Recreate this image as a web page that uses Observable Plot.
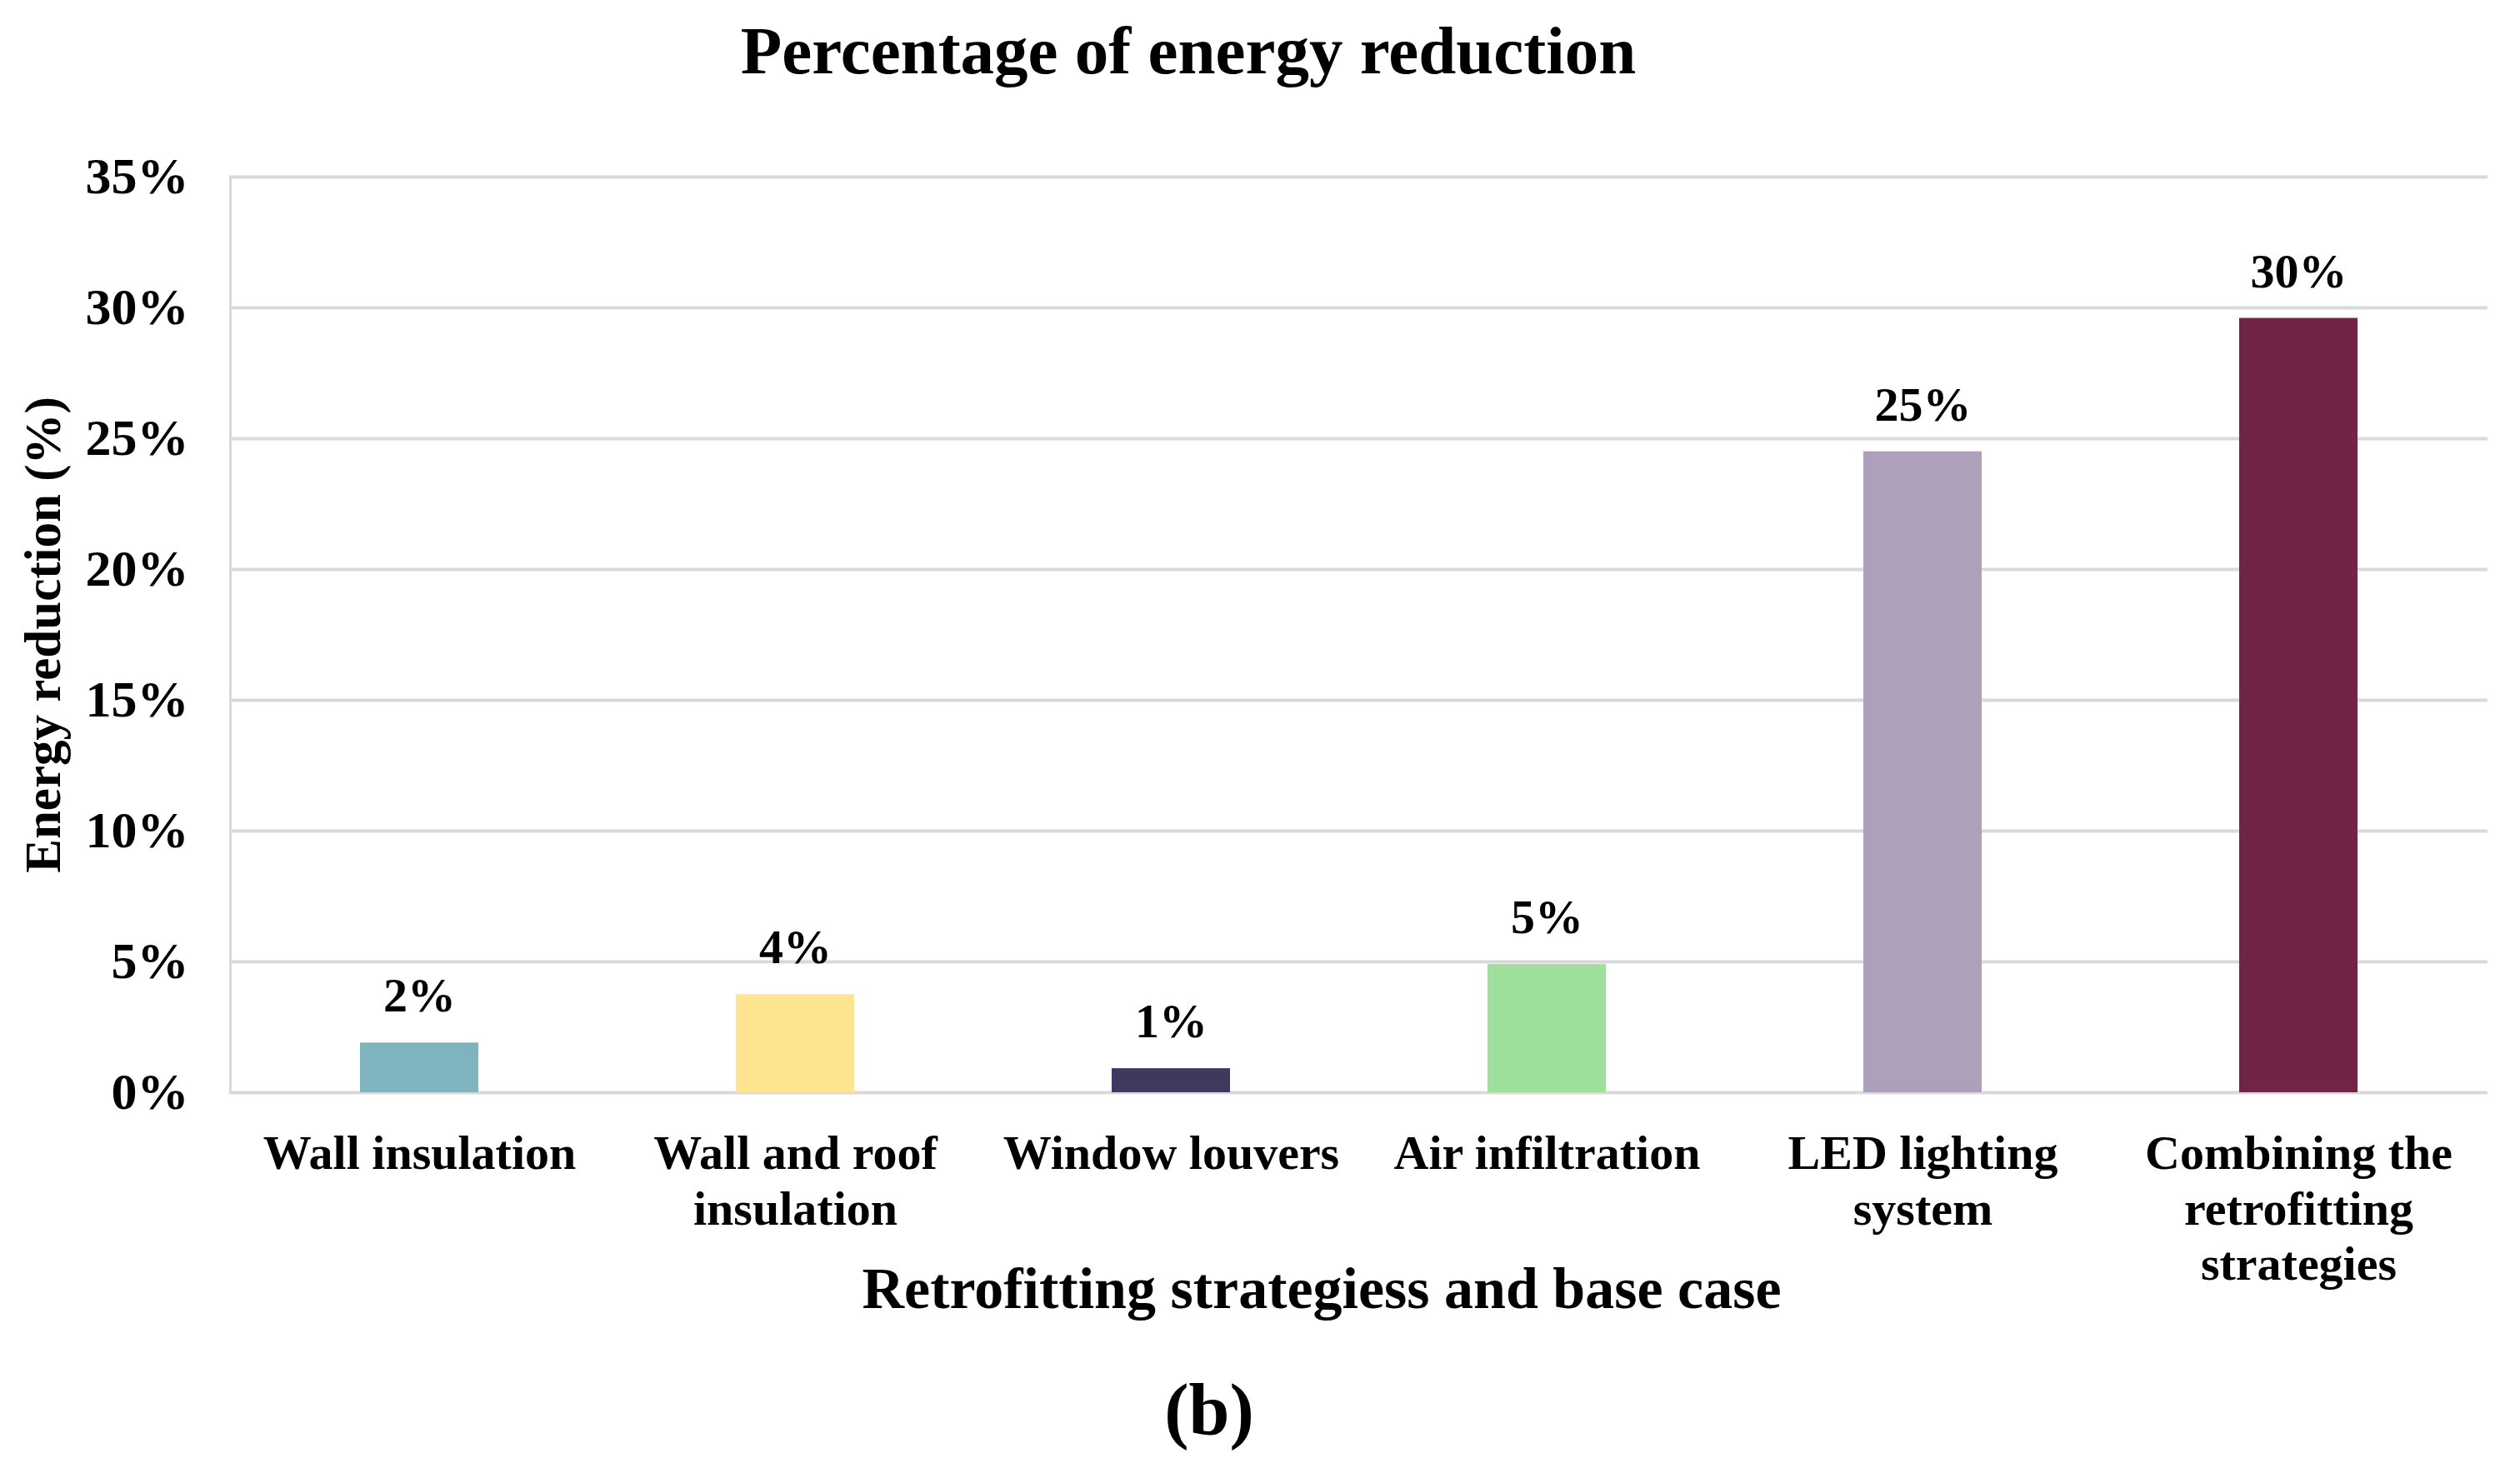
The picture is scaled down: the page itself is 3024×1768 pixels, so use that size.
<!DOCTYPE html>
<html><head><meta charset="utf-8">
<script src="https://cdn.jsdelivr.net/npm/d3@7"></script>
<script src="https://cdn.jsdelivr.net/npm/@observablehq/plot@0.6"></script>
<style>html,body{margin:0;padding:0;background:#fff;} svg{display:block}</style>
</head><body><div id="chart"></div>
<script>
const categories = ["Wall insulation","Wall and roof insulation","Window louvers","Air infiltration","LED lighting system","Combining the retrofitting strategies"];
const tickLabels = ["Wall insulation","Wall and roof\ninsulation","Window louvers","Air infiltration","LED lighting\nsystem","Combining the\nretrofitting\nstrategies"];
const values = [0.019, 0.0375, 0.0092, 0.049, 0.245, 0.296];
const valueLabels = ["2%","4%","1%","5%","25%","30%"];
const colors = ["#7fb3bd","#fee491","#3e3a5f","#9ddf9b","#ae9fba","#712447"];
const yTicks = [0, 0.05, 0.10, 0.15, 0.20, 0.25, 0.30, 0.35];
const title = "Percentage of energy reduction";
const xTitle = "Retrofitting strategiess and base case";
const yTitle = "Energy reduction (%)";
const panel = "(b)";

const data = categories.map((c, i) => ({category: c, value: values[i], label: valueLabels[i]}));
const font = "'Liberation Serif','Times New Roman',serif";

const chart = Plot.plot({
  width: 3024, height: 1768,
  marginTop: 212, marginBottom: 457, marginLeft: 276, marginRight: 39,
  style: {fontFamily: font, fontWeight: "bold", color: "#000", background: "#fff"},
  x: {domain: categories, paddingInner: 0.685, paddingOuter: 0.3425, label: null},
  y: {domain: [0, 0.35], label: null},
  color: {domain: categories, range: colors},
  marks: [
    Plot.gridY(yTicks, {stroke: "#d9d9d9", strokeWidth: 4, strokeOpacity: 1}),
    Plot.frame({anchor: "left", stroke: "#d9d9d9", strokeWidth: 3}),
    Plot.axisY(yTicks, {tickSize: 0, tickPadding: 50, tickFormat: d3.format(".0%"), fontSize: 62, fontWeight: "bold", label: null}),
    Plot.axisX({tickSize: 0, tickPadding: 45, tickFormat: d => tickLabels[categories.indexOf(d)], fontSize: 58, lineHeight: 1.14, fontWeight: "bold", label: null}),
    Plot.barY(data, {x: "category", y: "value", fill: "category"}),
    Plot.text(data, {x: "category", y: "value", text: "label", dy: -56, fontSize: 58, fontWeight: "bold", fill: "#000"}),
    Plot.text([title], {frameAnchor: "top", textAnchor: "middle", lineAnchor: "middle", dy: -150, dx: -205, fontSize: 81, fontWeight: "bold", fill: "#000"}),
    Plot.text([xTitle], {frameAnchor: "bottom", textAnchor: "middle", lineAnchor: "middle", dy: 236, dx: -45, fontSize: 70, fontWeight: "bold", fill: "#000"}),
    Plot.text([yTitle], {frameAnchor: "left", textAnchor: "middle", lineAnchor: "middle", rotate: -90, dx: -224, fontSize: 61, fontWeight: "bold", fill: "#000"}),
    Plot.text([panel], {frameAnchor: "bottom", textAnchor: "middle", lineAnchor: "middle", dy: 382, dx: -180, fontSize: 88, fontWeight: "bold", fill: "#000"})
  ]
});
document.getElementById("chart").appendChild(chart);
</script>
</body></html>
